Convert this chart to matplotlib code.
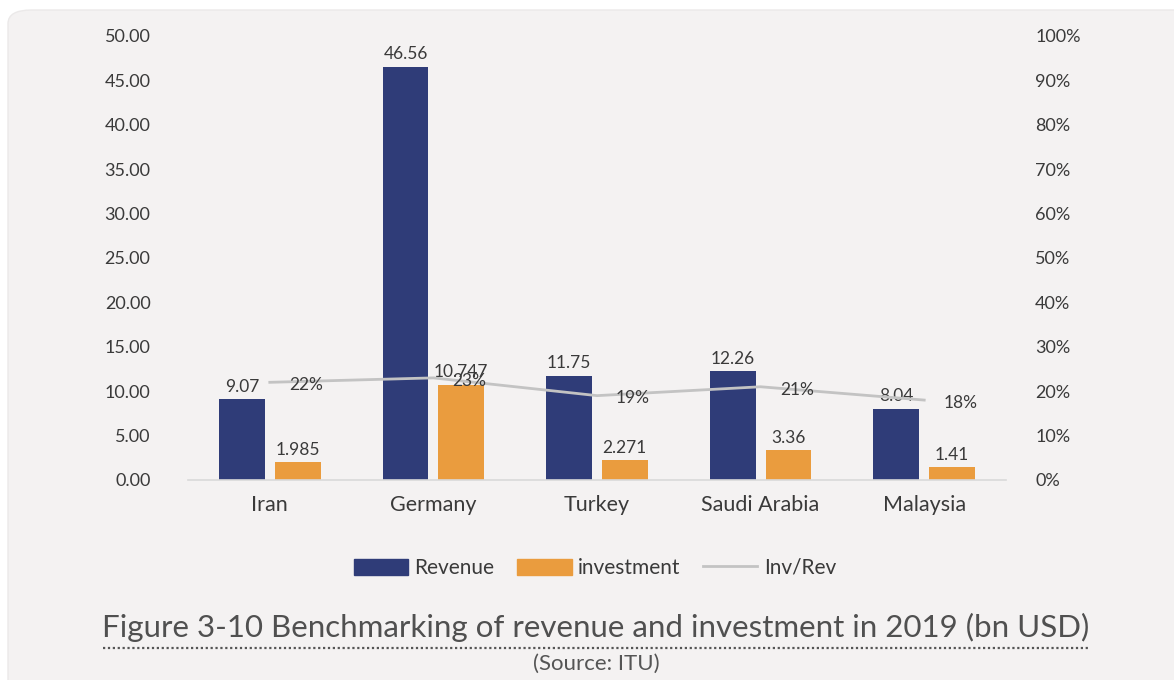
import numpy as np
import matplotlib
matplotlib.use("Agg")
import matplotlib.pyplot as plt
from matplotlib.patches import FancyBboxPatch, Patch
from matplotlib.lines import Line2D

plt.rcParams['font.family'] = ['Lato', 'DejaVu Sans']

# data (bn USD)
countries = ["Iran", "Germany", "Turkey", "Saudi Arabia", "Malaysia"]
revenue = [9.07, 46.56, 11.75, 12.26, 8.04]
investment = [1.985, 10.747, 2.271, 3.36, 1.41]
inv_rev = [0.22, 0.23, 0.19, 0.21, 0.18]
rev_labels = ["9.07", "46.56", "11.75", "12.26", "8.04"]
inv_labels = ["1.985", "10.747", "2.271", "3.36", "1.41"]

navy = "#2f3c78"
orange = "#ea9c3e"
grey_line = "#c3c3c3"
txt = "#3a3a3a"

W, H = 1174, 680
fig = plt.figure(figsize=(W / 100, H / 100), dpi=100)
fig.patch.set_facecolor("white")

# light card behind everything
card = FancyBboxPatch((8 / W, -0.05), 1.1, 1 - 10 / H + 0.05,
                      boxstyle="round,pad=0,rounding_size=0.02",
                      transform=fig.transFigure, facecolor="#f4f2f2",
                      edgecolor="#ebe9e9", linewidth=1, zorder=-10)
fig.patches.append(card)

ax = fig.add_axes([188 / W, 1 - 480 / H, (1006 - 188) / W, 444 / H])
ax.set_facecolor("none")
ax2 = ax.twinx()

x = np.arange(len(countries))
bw = 0.28
off = 0.17
ax.bar(x - off, revenue, bw, color=navy, zorder=2)
ax.bar(x + off, investment, bw, color=orange, zorder=2)

for xi, v, s in zip(x, revenue, rev_labels):
    ax.annotate(s, (xi - off, v), xytext=(0, 3), textcoords="offset points",
                ha="center", va="bottom", fontsize=12.5, color=txt)
for xi, v, s in zip(x, investment, inv_labels):
    ax.annotate(s, (xi + off, v), xytext=(0, 3), textcoords="offset points",
                ha="center", va="bottom", fontsize=12.5, color=txt)

ax2.plot(x, inv_rev, color=grey_line, lw=2, zorder=3)
for xi, v in zip(x, inv_rev):
    ax2.annotate(f"{v:.0%}", (xi, v), xytext=(26, -2), textcoords="offset points",
                 ha="center", va="center", fontsize=12.5, color=txt)

ax.set_xlim(-0.5, 4.5)
ax.set_ylim(0, 50)
ax.set_yticks(np.arange(0, 51, 5))
ax.set_yticklabels([f"{v:.2f}" for v in np.arange(0, 51, 5)])
ax2.set_ylim(0, 1)
ax2.set_yticks(np.arange(0, 1.01, 0.1))
ax2.set_yticklabels([f"{v:.0%}" for v in np.arange(0, 1.01, 0.1)])
ax.set_xticks(x)
ax.set_xticklabels(countries, fontsize=15.5, color=txt)

for a in (ax, ax2):
    for sp in a.spines.values():
        sp.set_visible(False)
ax.spines["bottom"].set_visible(True)
ax.spines["bottom"].set_color("#d9d9d9")
ax.spines["bottom"].set_linewidth(1.2)
ax.tick_params(axis="y", length=0, pad=27, labelsize=13, labelcolor=txt)
ax.tick_params(axis="x", length=0, pad=11)
ax2.tick_params(axis="y", length=0, pad=21, labelsize=13, labelcolor=txt)

handles = [Patch(color=navy, label="Revenue"),
           Patch(color=orange, label="investment"),
           Line2D([], [], color=grey_line, lw=2, label="Inv/Rev")]
fig.legend(handles=handles, loc="center", bbox_to_anchor=(595 / W, 1 - 568 / H),
           ncol=3, frameon=False, fontsize=15, handlelength=2.6,
           handleheight=0.8, handletextpad=0.3, columnspacing=1.1,
           labelcolor=txt)

fig.text(596 / W, 1 - 627 / H,
         "Figure 3-10 Benchmarking of revenue and investment in 2019 (bn USD)",
         ha="center", va="center", fontsize=22.5, color="#505050")
fig.add_artist(Line2D([103 / W, 1090 / W], [1 - 648 / H, 1 - 648 / H],
                      transform=fig.transFigure, color="#555555", lw=1.6,
                      linestyle=(0, (1, 1.2))))
fig.text(596 / W, 1 - 664 / H, "(Source: ITU)", ha="center", va="center",
         fontsize=16, color="#555555")

fig.savefig("out.png", dpi=100)
